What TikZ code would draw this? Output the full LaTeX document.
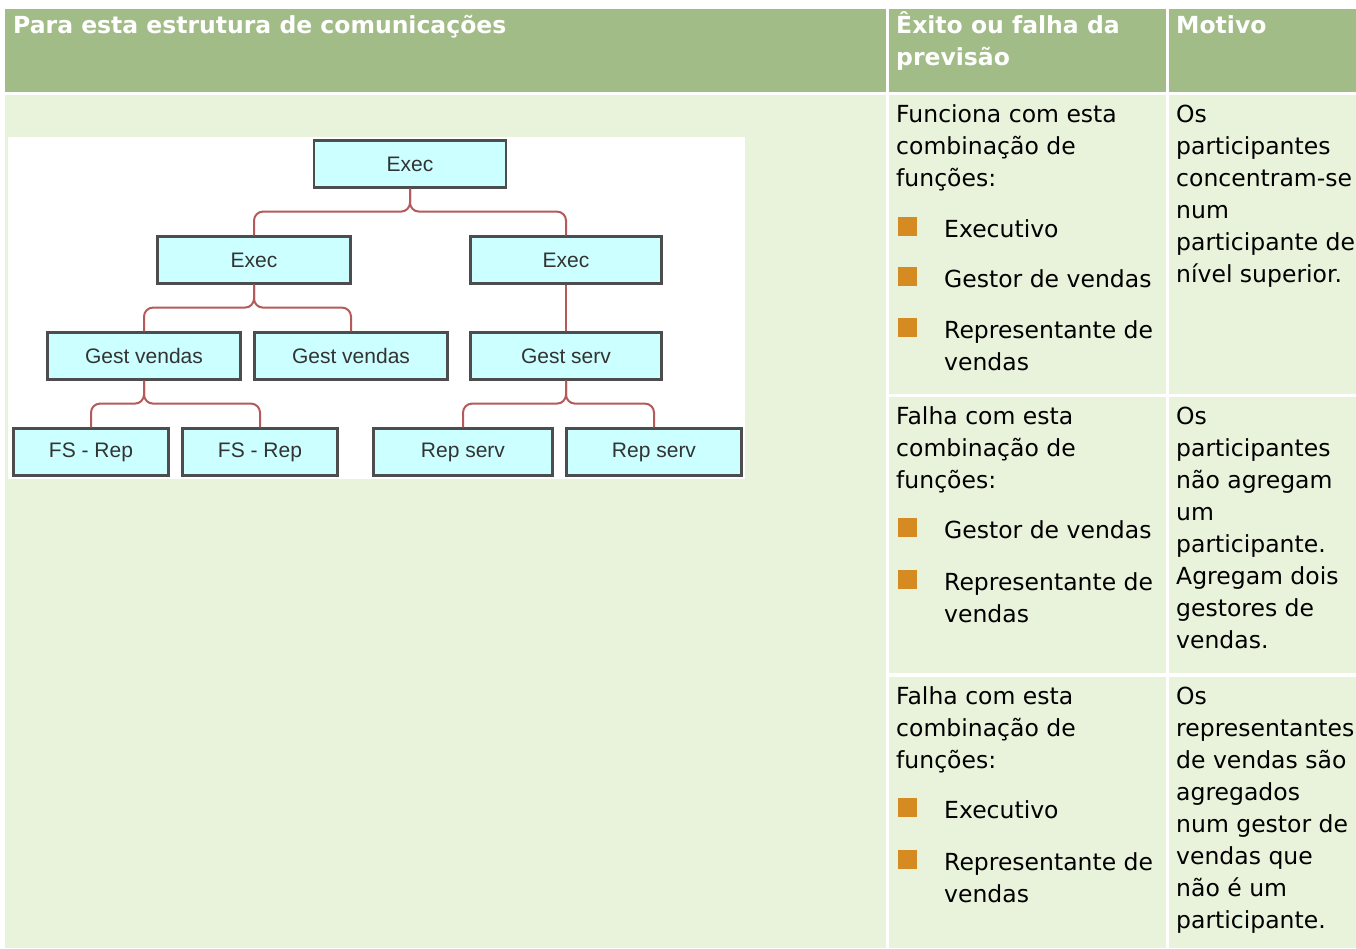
\documentclass[tikz,border=0pt]{standalone}
\usepackage{fontspec}
\setmainfont{DejaVu Sans}
\newfontfamily\boxfont{Liberation Sans}
\definecolor{headgreen}{HTML}{A1BC87}
\definecolor{cellgreen}{HTML}{E9F3DB}
\definecolor{boxcyan}{HTML}{CCFFFF}
\definecolor{boxline}{HTML}{4D4D4D}
\definecolor{linkred}{HTML}{B45A5A}
\definecolor{bulletorange}{HTML}{D68B22}
\tikzset{
  role/.style={draw=boxline,line width=2.2pt,fill=boxcyan,minimum height=47pt,inner sep=0pt,
    font=\boxfont\fontsize{21}{21}\selectfont,text=black!80},
  link/.style={draw=linkred,line width=2pt,rounded corners=9pt},
  celltxt/.style={anchor=base west,inner sep=0pt,font=\fontsize{23.5}{32}\selectfont},
  headtxt/.style={celltxt,text=white,font=\bfseries\fontsize{23.5}{32}\selectfont},
}
\begin{document}
\begin{tikzpicture}[x=1pt,y=-1pt]
\useasboundingbox (0,0) rectangle (1356,948);
\fill[white] (0,0) rectangle (1356,948);

%header
\fill[headgreen] (5,9) rectangle (886,92);
\fill[headgreen] (889,9) rectangle (1166,92);
\fill[headgreen] (1169,9) rectangle (1356,92);
\node[headtxt] (head1) at (13,33) {Para esta estrutura de comunica\c{c}\~oes};
\node[headtxt] (head2) at (896,33) {\^Exito ou falha da};
\node[headtxt] (head2b) at (896,65) {previs\~ao};
\node[headtxt] (head3) at (1176,33) {Motivo};

%cells
\fill[cellgreen] (5,95) rectangle (886,948);
\fill[cellgreen] (889,95) rectangle (1166,394);
\fill[cellgreen] (1169,95) rectangle (1356,394);
\fill[cellgreen] (889,397) rectangle (1166,673);
\fill[cellgreen] (1169,397) rectangle (1356,673);
\fill[cellgreen] (889,677) rectangle (1166,948);
\fill[cellgreen] (1169,677) rectangle (1356,948);

%structure
\fill[white] (8,137) rectangle (745,479);
\node[role,minimum width=192pt] (exec) at (410,164) {Exec};
\node[role,minimum width=193pt] (execL) at (254,260) {Exec};
\node[role,minimum width=191pt] (execR) at (566,260) {Exec};
\node[role,minimum width=193pt] (gestA) at (144,356) {Gest vendas};
\node[role,minimum width=193pt] (gestB) at (351,356) {Gest vendas};
\node[role,minimum width=191pt] (gestS) at (566,356) {Gest serv};
\node[role,minimum width=155pt] (fsA) at (91,452) {FS - Rep};
\node[role,minimum width=155pt] (fsB) at (260,452) {FS - Rep};
\node[role,minimum width=179pt] (repA) at (463,452) {Rep serv};
\node[role,minimum width=175pt] (repB) at (654,452) {Rep serv};
\draw[link] (exec.south) -- ++(0,23) -| (execL.north);
\draw[link] (exec.south) -- ++(0,23) -| (execR.north);
\draw[link] (execL.south) -- ++(0,23) -| (gestA.north);
\draw[link] (execL.south) -- ++(0,23) -| (gestB.north);
\draw[link] (execR.south) -- (gestS.north);
\draw[link] (gestA.south) -- ++(0,23) -| (fsA.north);
\draw[link] (gestA.south) -- ++(0,23) -| (fsB.north);
\draw[link] (gestS.south) -- ++(0,23) -| (repA.north);
\draw[link] (gestS.south) -- ++(0,23) -| (repB.north);

%bullets
\foreach \b in {237,287,338,538,590,818,870}
  \fill[bulletorange] (898,{\b-20}) rectangle (917,{\b-1});

%first row
\foreach \t [count=\i from 0] in {Funciona com esta,combina\c{c}\~ao de,fun\c{c}\~oes:}
  \node[celltxt] (ok-\i) at (896,{122+32*\i}) {\t};
\node[celltxt] (okA) at (944,237) {Executivo};
\node[celltxt] (okB) at (944,287) {Gestor de vendas};
\node[celltxt] (okC) at (944,338) {Representante de};
\node[celltxt] (okD) at (944,370) {vendas};
\foreach \t [count=\i from 0] in {Os,participantes,concentram-se,num,participante de,n\'ivel superior.}
  \node[celltxt] (why-\i) at (1176,{122+32*\i}) {\t};

%second row
\foreach \t [count=\i from 0] in {Falha com esta,combina\c{c}\~ao de,fun\c{c}\~oes:}
  \node[celltxt] (failA-\i) at (896,{424+32*\i}) {\t};
\node[celltxt] (failAa) at (944,538) {Gestor de vendas};
\node[celltxt] (failAb) at (944,590) {Representante de};
\node[celltxt] (failAc) at (944,622) {vendas};
\foreach \t [count=\i from 0] in {Os,participantes,n\~ao agregam,um,participante.,Agregam dois,gestores de,vendas.}
  \node[celltxt] (whyA-\i) at (1176,{424+32*\i}) {\t};

%third row
\foreach \t [count=\i from 0] in {Falha com esta,combina\c{c}\~ao de,fun\c{c}\~oes:}
  \node[celltxt] (failB-\i) at (896,{704+32*\i}) {\t};
\node[celltxt] (failBa) at (944,818) {Executivo};
\node[celltxt] (failBb) at (944,870) {Representante de};
\node[celltxt] (failBc) at (944,902) {vendas};
\foreach \t [count=\i from 0] in {Os,representantes,de vendas s\~ao,agregados,num gestor de,vendas que,n\~ao \'e um,participante.}
  \node[celltxt] (whyB-\i) at (1176,{704+32*\i}) {\t};
\end{tikzpicture}
\end{document}
